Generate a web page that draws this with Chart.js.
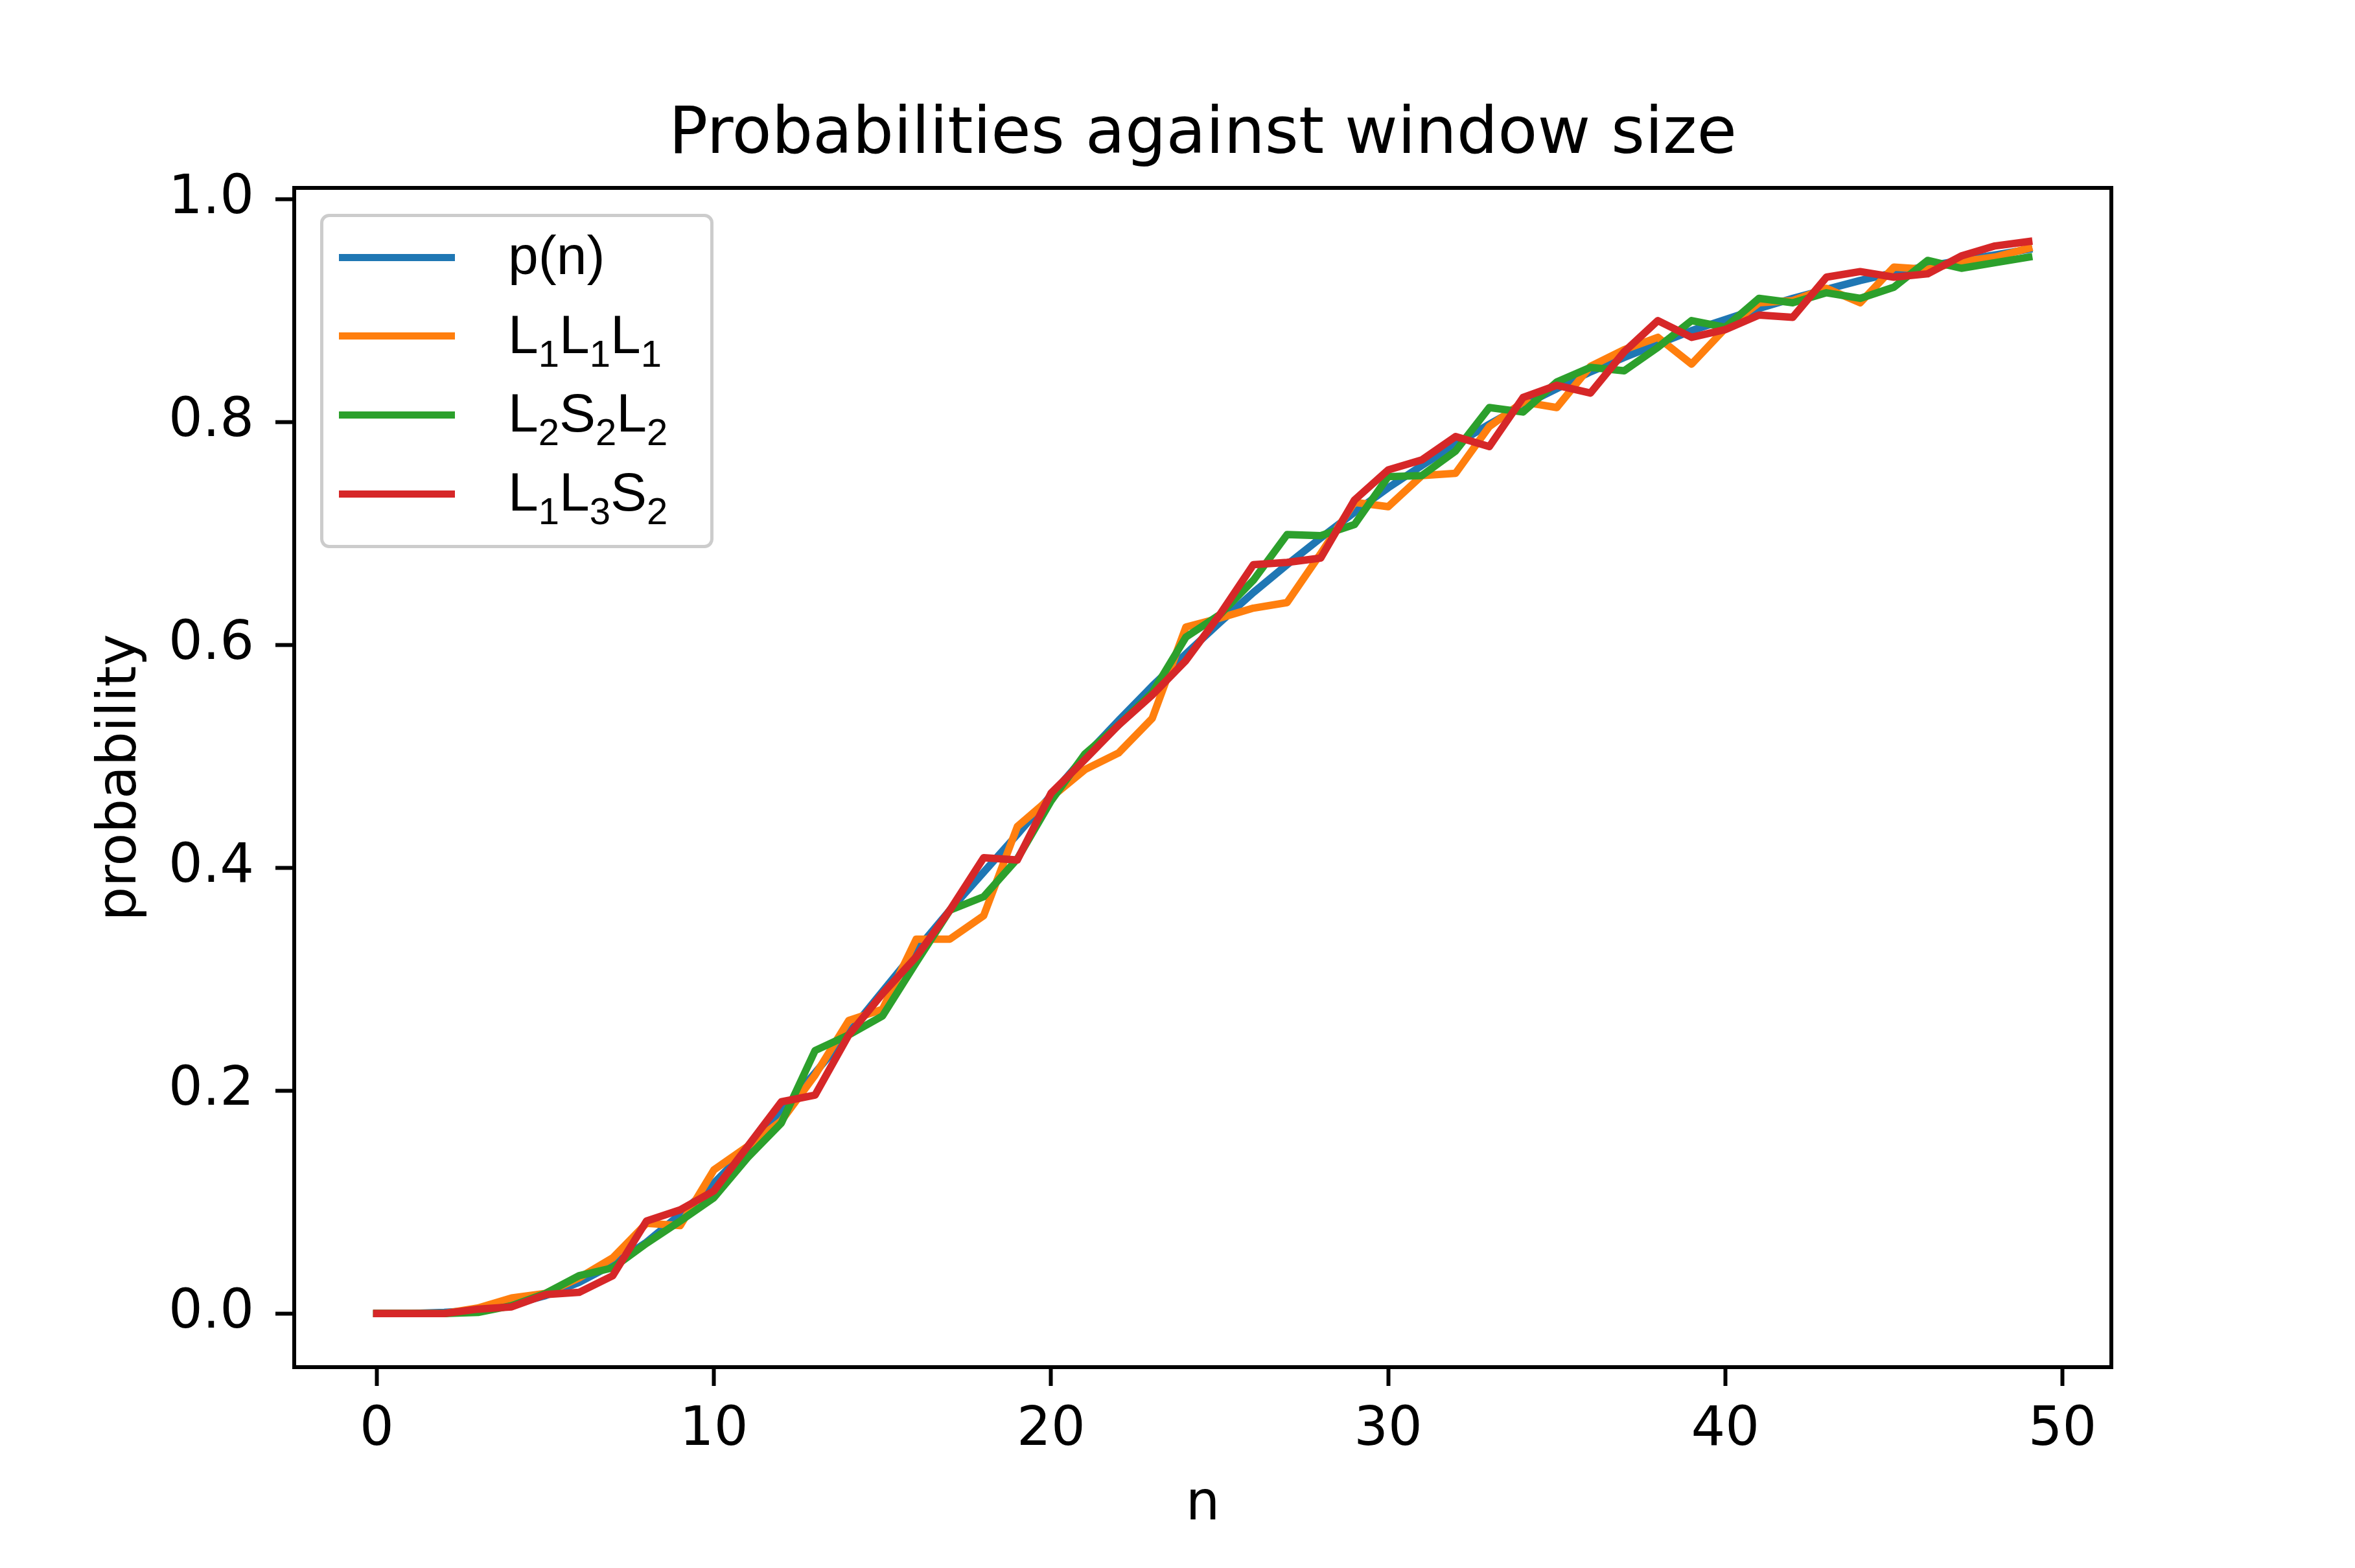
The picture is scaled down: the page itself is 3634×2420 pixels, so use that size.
<!DOCTYPE html>
<html>
<head>
<meta charset="utf-8">
<script src="https://cdn.jsdelivr.net/npm/chart.js@4.4.1/dist/chart.umd.min.js"></script>
<style>
  body { margin: 0; background: #fff; }
  #wrap { position: relative; width: 3634px; height: 2420px; }
  #legend {
    position: absolute;
    box-sizing: border-box;
    border: 5px solid #cccccc;
    border-radius: 14px;
    background: rgba(255, 255, 255, 0.8);
    font-family: 'Liberation Sans', Arial, sans-serif;
    font-size: 84px;
    color: #000;
  }
  #legend .swatch { position: absolute; height: 11px; }
  #legend .text { position: absolute; line-height: 84px; white-space: nowrap; }
  #legend sub {
    font-size: 58px;
    vertical-align: baseline;
    position: relative;
    top: 21px;
    line-height: 0;
  }
</style>
</head>
<body>
<div id="wrap">
  <canvas id="chart" width="3634" height="2420" style="width:3634px;height:2420px"></canvas>
  <div id="legend"></div>
</div>
<script>
const nValues = [0, 1, 2, 3, 4, 5, 6, 7, 8, 9,
  10, 11, 12, 13, 14, 15, 16, 17, 18, 19,
  20, 21, 22, 23, 24, 25, 26, 27, 28, 29,
  30, 31, 32, 33, 34, 35, 36, 37, 38, 39,
  40, 41, 42, 43, 44, 45, 46, 47, 48, 49];

const pValues = [0, 0, 0.001, 0.003, 0.008, 0.016, 0.028, 0.044, 0.064, 0.089,
  0.117, 0.148, 0.181, 0.216, 0.252, 0.289, 0.326, 0.362, 0.396, 0.43,
  0.465, 0.5, 0.532, 0.563, 0.592, 0.62, 0.647, 0.672, 0.696, 0.719,
  0.741, 0.761, 0.78, 0.798, 0.815, 0.83, 0.845, 0.858, 0.87, 0.882,
  0.892, 0.902, 0.911, 0.919, 0.927, 0.934, 0.94, 0.945, 0.95, 0.955];

const l1l1l1Values = [0, 0, 0, 0.005, 0.014, 0.018, 0.032, 0.05, 0.081, 0.079,
  0.129, 0.15, 0.173, 0.214, 0.263, 0.273, 0.336, 0.336, 0.357, 0.437,
  0.463, 0.488, 0.503, 0.534, 0.616, 0.624, 0.633, 0.638, 0.682, 0.728,
  0.724, 0.752, 0.754, 0.796, 0.818, 0.813, 0.85, 0.865, 0.876, 0.852,
  0.884, 0.907, 0.909, 0.92, 0.907, 0.939, 0.937, 0.944, 0.948, 0.956];

const l2s2l2Values = [0, 0, 0, 0.001, 0.007, 0.018, 0.034, 0.041, 0.063, 0.083,
  0.104, 0.14, 0.171, 0.236, 0.25, 0.267, 0.315, 0.362, 0.374, 0.408,
  0.46, 0.502, 0.528, 0.557, 0.607, 0.627, 0.658, 0.699, 0.698, 0.708,
  0.751, 0.752, 0.774, 0.813, 0.809, 0.836, 0.849, 0.846, 0.867, 0.891,
  0.885, 0.911, 0.907, 0.916, 0.911, 0.921, 0.945, 0.938, 0.943, 0.948];

const l1l3s2Values = [0, 0, 0, 0.004, 0.006, 0.017, 0.019, 0.034, 0.083, 0.093,
  0.11, 0.15, 0.19, 0.196, 0.25, 0.287, 0.32, 0.362, 0.409, 0.407,
  0.467, 0.497, 0.528, 0.555, 0.586, 0.627, 0.672, 0.674, 0.678, 0.73,
  0.757, 0.766, 0.787, 0.778, 0.822, 0.833, 0.826, 0.863, 0.891, 0.876,
  0.883, 0.896, 0.894, 0.93, 0.935, 0.93, 0.933, 0.949, 0.958, 0.962];

const seriesLabels = ['p(n)', 'L_1L_1L_1', 'L_2S_2L_2', 'L_1L_3S_2'];
const seriesColors = ['#1f77b4', '#ff7f0e', '#2ca02c', '#d62728'];
const xTickValues = [0, 10, 20, 30, 40, 50];
const yTickValues = [0, 0.2, 0.4, 0.6, 0.8, 1.0];

const allSeries = [pValues, l1l1l1Values, l2s2l2Values, l1l3s2Values];

// matplotlib style 5% margins
const xMin = Math.min(...nValues), xMax = Math.max(...nValues);
const yMin = Math.min(...allSeries.flat()), yMax = Math.max(...allSeries.flat());
const xPad = (xMax - xMin) * 0.05, yPad = (yMax - yMin) * 0.05;

const font = 'DejaVu Sans';

const datasets = allSeries.map((vals, i) => ({
  label: seriesLabels[i],
  data: nValues.map((n, j) => ({ x: n, y: vals[j] })),
  borderColor: seriesColors[i],
  backgroundColor: seriesColors[i],
  borderWidth: 11.5,
  pointRadius: 0,
  tension: 0,
  borderJoinStyle: 'round',
  borderCapStyle: 'square',
  order: allSeries.length - i,
}));

const framePlugin = {
  id: 'frame',
  afterDatasetsDraw(chart) {
    const { ctx, chartArea: a } = chart;
    ctx.save();
    ctx.strokeStyle = '#000';
    ctx.lineWidth = 6;
    ctx.strokeRect(a.left, a.top, a.right - a.left, a.bottom - a.top);
    ctx.restore();
  },
};

const tickGrid = {
  drawOnChartArea: false,
  drawTicks: true,
  tickLength: 29,
  tickWidth: 6,
  tickColor: '#000',
};

const chart = new Chart(document.getElementById('chart'), {
  type: 'line',
  data: { datasets },
  options: {
    responsive: false,
    animation: false,
    devicePixelRatio: 1,
    layout: { padding: { left: 0, right: 376, top: 0, bottom: 0 } },
    plugins: {
      legend: { display: false },
      tooltip: { enabled: false },
      title: {
        display: true,
        text: 'Probabilities against window size',
        color: '#000',
        fullSize: false,
        font: { family: font, size: 100, weight: 'normal' },
        padding: { top: 150, bottom: 20 },
      },
    },
    scales: {
      x: {
        type: 'linear',
        min: xMin - xPad,
        max: xMax + xPad,
        afterBuildTicks: (axis) => { axis.ticks = xTickValues.map(v => ({ value: v })); },
        afterFit: (scale) => { scale.height = 310; },
        grid: tickGrid,
        border: { display: false },
        ticks: {
          color: '#000',
          font: { family: font, size: 83 },
          padding: 20,
          maxRotation: 0,
          autoSkip: false,
          callback: (v) => String(v),
        },
        title: {
          display: true,
          text: 'n',
          color: '#000',
          font: { family: font, size: 83 },
          padding: { top: 0, bottom: 47 },
        },
      },
      y: {
        type: 'linear',
        min: yMin - yPad,
        max: yMax + yPad,
        afterBuildTicks: (axis) => { axis.ticks = yTickValues.map(v => ({ value: v })); },
        afterFit: (scale) => { scale.width = 454; },
        grid: tickGrid,
        border: { display: false },
        ticks: {
          color: '#000',
          font: { family: font, size: 83 },
          padding: 33,
          autoSkip: false,
          callback: (v) => v.toFixed(1),
        },
        title: {
          display: true,
          text: 'probability',
          color: '#000',
          font: { family: font, size: 83 },
          padding: { top: 138, bottom: 0 },
        },
      },
    },
  },
  plugins: [framePlugin],
});

// legend drawn as html so the subscripts stay real text
function labelHtml(s) {
  return s.replace(/_(\d)/g, '<sub>$1</sub>');
}

const legend = document.getElementById('legend');
const area = chart.chartArea;
legend.style.left = (area.left + 40) + 'px';
legend.style.top = (area.top + 40) + 'px';
legend.style.width = '607px';
legend.style.height = '516px';

seriesLabels.forEach((label, i) => {
  const cy = 62 + 121.7 * i;
  const sw = document.createElement('div');
  sw.className = 'swatch';
  sw.style.left = '24px';
  sw.style.width = '179px';
  sw.style.top = (cy - 5.5) + 'px';
  sw.style.background = seriesColors[i];
  legend.appendChild(sw);

  const tx = document.createElement('div');
  tx.className = 'text';
  tx.style.left = '285px';
  tx.style.top = (cy + 26 - 71) + 'px';
  tx.innerHTML = labelHtml(label);
  legend.appendChild(tx);
});
</script>
</body>
</html>
